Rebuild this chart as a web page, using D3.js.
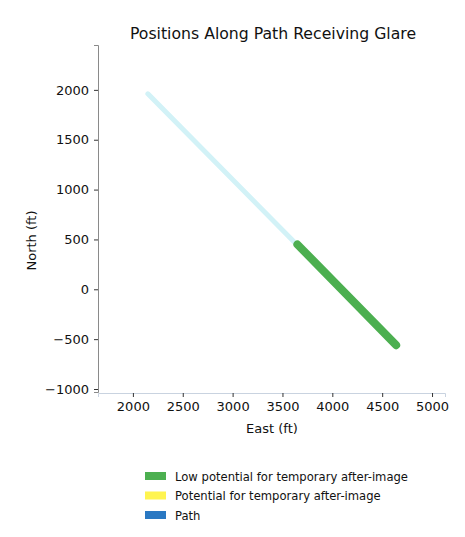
<!DOCTYPE html>
<html>
<head>
<meta charset="utf-8">
<script src="https://cdn.jsdelivr.net/npm/d3@7"></script>
<style>
  html, body { margin: 0; padding: 0; background: #fff; }
  svg { display: block; font-family: "DejaVu Sans", sans-serif; }
</style>
</head>
<body>
<svg id="chart" width="465" height="537"></svg>
<script>
// Path vertices (East, North) in feet
const pathEast = [2150, 4640];
const pathNorth = [1960, -560];

// Section of the path with low potential for temporary after-image
const lowEast = [3650, 4640];
const lowNorth = [450, -560];

const xTicks = [2000, 2500, 3000, 3500, 4000, 4500, 5000];
const yTicks = [2000, 1500, 1000, 500, 0, -500, -1000];

const legendLabels = [
  "Low potential for temporary after-image",
  "Potential for temporary after-image",
  "Path"
];
const legendColors = ["#4caf50", "#fff44f", "#2a78c2"];

const svg = d3.select("#chart");
const plotLeft = 98, plotRight = 445, plotTop = 45, plotBottom = 392;

const x = d3.scaleLinear().domain([1650, 5130]).range([plotLeft, plotRight]);
const y = d3.scaleLinear().domain([-1030, 2450]).range([plotBottom, plotTop]);

// Title
svg.append("text")
  .attr("x", 273).attr("y", 39)
  .attr("text-anchor", "middle")
  .attr("font-size", 15.7)
  .attr("fill", "#111")
  .text("Positions Along Path Receiving Glare");

// Axes
const xAxis = svg.append("g")
  .attr("transform", `translate(0,${plotBottom + 1})`)
  .call(d3.axisBottom(x).tickValues(xTicks).tickFormat(d3.format("d")).tickSize(4).tickPadding(5));
const yAxis = svg.append("g")
  .attr("transform", `translate(${plotLeft},0)`)
  .call(d3.axisLeft(y).tickValues(yTicks).tickFormat(d => d < 0 ? "\u2212" + Math.abs(d) : d).tickSize(4).tickPadding(5));

xAxis.select(".domain").attr("stroke", "#c9d3e0");
yAxis.select(".domain").attr("stroke", "#8a8a8a");
[xAxis, yAxis].forEach(g => {
  g.selectAll(".tick line").attr("stroke", "#333");
  g.selectAll(".tick text").attr("font-size", 13).attr("fill", "#111")
    .attr("font-family", "DejaVu Sans, sans-serif");
});

// Axis labels
svg.append("text")
  .attr("x", 272).attr("y", 433)
  .attr("text-anchor", "middle")
  .attr("font-size", 13).attr("fill", "#111")
  .text("East (ft)");
svg.append("text")
  .attr("transform", `translate(36,${(plotTop + plotBottom) / 2 + 22}) rotate(-90)`)
  .attr("text-anchor", "middle")
  .attr("font-size", 13).attr("fill", "#111")
  .text("North (ft)");

const line = d3.line().x(d => x(d[0])).y(d => y(d[1]));

// Path
svg.append("path")
  .datum(pathEast.map((e, i) => [e, pathNorth[i]]))
  .attr("d", line)
  .attr("fill", "none")
  .attr("stroke", "#d2f2f7")
  .attr("stroke-width", 5)
  .attr("stroke-linecap", "round");

// Glare section
svg.append("path")
  .datum(lowEast.map((e, i) => [e, lowNorth[i]]))
  .attr("d", line)
  .attr("fill", "none")
  .attr("stroke", legendColors[0])
  .attr("stroke-width", 8)
  .attr("stroke-linecap", "round");

// Legend
const legend = svg.append("g").attr("transform", "translate(145,472)");
legendLabels.forEach((lab, i) => {
  const g = legend.append("g").attr("transform", `translate(0,${i * 19.5})`);
  g.append("rect").attr("width", 21).attr("height", 8).attr("fill", legendColors[i]);
  g.append("text").attr("x", 30).attr("y", 8.5)
    .attr("font-size", 11.6).attr("fill", "#111")
    .text(lab);
});
</script>
</body>
</html>
